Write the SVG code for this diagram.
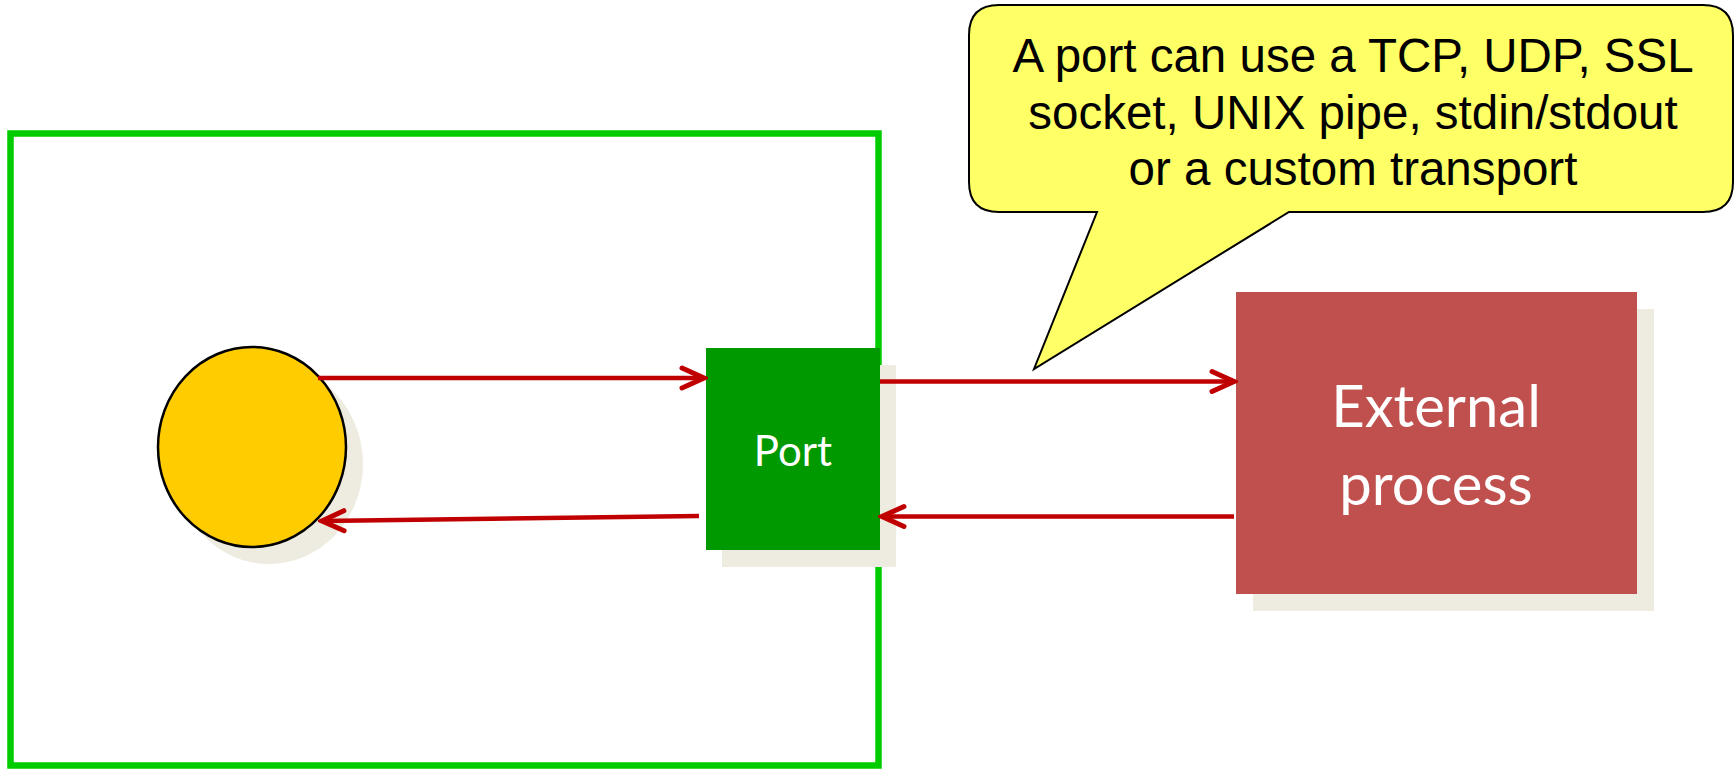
<svg xmlns="http://www.w3.org/2000/svg" width="1735" height="770" viewBox="0 0 1735 770">
  <style>
    .shadow { fill: #EEECE1; }
    .link { stroke: #C00000; stroke-width: 4.5; fill: none; marker-end: url(#head); }
    .label { fill: #FFFFFF; font-family: Lato, "Open Sans", sans-serif; text-anchor: middle; }
    .note { fill: #000000; font-family: "Liberation Sans", Arial, sans-serif; font-size: 47.5px; text-anchor: middle; }
  </style>
  <defs>
    <marker id="head" markerUnits="userSpaceOnUse" markerWidth="30" markerHeight="30" viewBox="-26 -14 30 28" refX="0" refY="0" orient="auto">
      <path d="M-22,-10 L0,0 L-22,10" fill="none" stroke="#C00000" stroke-width="5" stroke-linecap="round" stroke-linejoin="miter"/>
    </marker>
  </defs>
  <rect width="1735" height="770" fill="#FFFFFF"/>

  <!-- node boundary -->
  <g id="node-boundary">
    <rect x="10.5" y="133.5" width="868" height="632" fill="none" stroke="#00CC00" stroke-width="6.5"/>
  </g>

  <!-- process circle -->
  <g id="node-process">
    <ellipse class="shadow" cx="269" cy="464" rx="94" ry="100"/>
    <ellipse cx="252" cy="447" rx="94" ry="100" fill="#FFCC00" stroke="#000000" stroke-width="2.5"/>
  </g>

  <!-- port box -->
  <g id="node-port">
    <rect class="shadow" x="722" y="365" width="174" height="202"/>
    <rect x="706" y="348" width="174" height="202" fill="#009900"/>
    <text class="label" x="793" y="466" font-size="42">Port</text>
  </g>

  <!-- external process box -->
  <g id="node-external">
    <rect class="shadow" x="1253" y="309" width="401" height="302"/>
    <rect x="1236" y="292" width="401" height="302" fill="#C0504D"/>
    <text class="label" x="1436" y="427" font-size="58">External</text>
    <text class="label" x="1436" y="505" font-size="58">process</text>
  </g>

  <!-- callout -->
  <g id="node-callout">
    <path d="M999,5 H1703 Q1733,5 1733,35 V182 Q1733,212 1703,212 H1289 L1034,369 L1097,212 H999 Q969,212 969,182 V35 Q969,5 999,5 Z" fill="#FFFF66" stroke="#000000" stroke-width="2"/>
    <text class="note" x="1353" y="72">A port can use a TCP, UDP, SSL</text>
    <text class="note" x="1353" y="128.5">socket, UNIX pipe, stdin/stdout</text>
    <text class="note" x="1353" y="185">or a custom transport</text>
  </g>

  <!-- connectors -->
  <g id="connectors">
    <line class="link" x1="318" y1="378" x2="704" y2="378"/>
    <line class="link" x1="880" y1="381.5" x2="1234" y2="381.5"/>
    <line class="link" x1="1234" y1="516.5" x2="882" y2="516.5"/>
    <line class="link" x1="699" y1="516" x2="322" y2="521"/>
  </g>
</svg>
